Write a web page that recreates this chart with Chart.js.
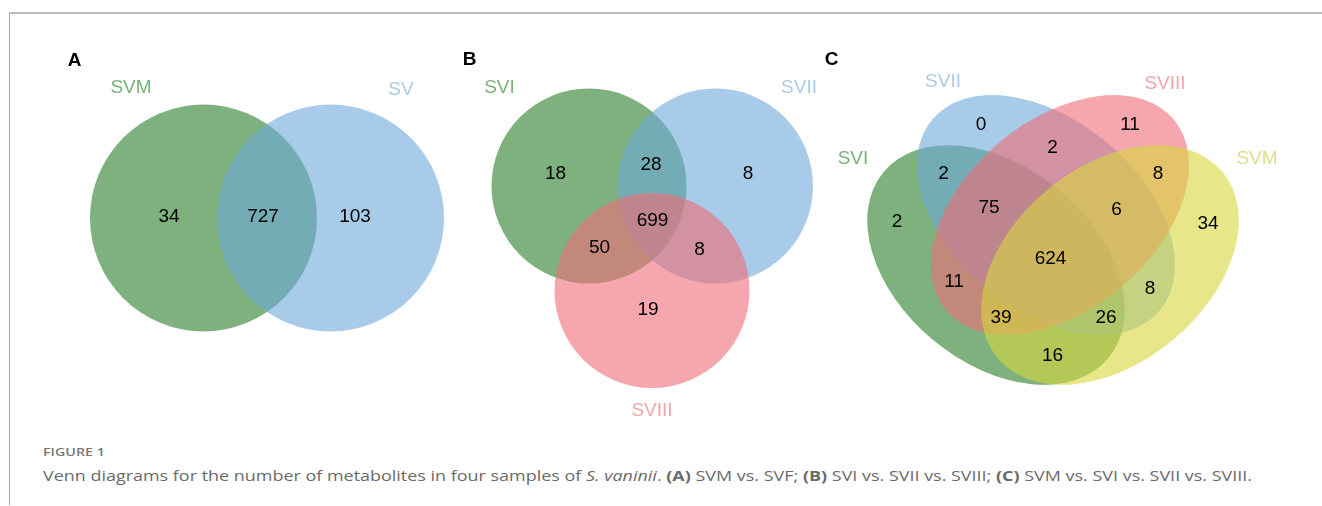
<!DOCTYPE html>
<html>
<head>
<meta charset="utf-8">
<script src="https://cdn.jsdelivr.net/npm/chart.js@4"></script>
<style>
  body { margin: 0; background: #fff; }
  #fig { position: relative; width: 1322px; height: 506px; overflow: hidden; }
  #frame { position: absolute; left: 9px; top: 12px; right: 0; height: 491px;
           border-top: 2px solid #bdbdbd; border-left: 1px solid #a8a8a8; }
  #plot { position: absolute; left: 0; top: 0; }
  .cap { position: absolute; left: 43px; font-family: "Open Sans", sans-serif;
         white-space: nowrap; transform-origin: 0 50%; }
  #figno { top: 444px; font-size: 11.5px; font-weight: 600; color: #777; }
  #legend { top: 466px; font-size: 14.5px; color: #6a6a6a; }
</style>
</head>
<body>
<div id="fig">
  <div id="frame"></div>
  <canvas id="plot" width="1322" height="430"></canvas>
  <div class="cap" id="figno">FIGURE 1</div>
  <div class="cap" id="legend">Venn diagrams for the number of metabolites in four samples of <i>S. vaninii</i>. <b>(A)</b> SVM vs. SVF; <b>(B)</b> SVI vs. SVII vs. SVIII; <b>(C)</b> SVM vs. SVI vs. SVII vs. SVIII.</div>
</div>
<script>
// data
var panels  = ["A", "B", "C"]
var setsA   = ["SVM", "SV"]
var countsA = [34, 727, 103]
var setsB   = ["SVI", "SVII", "SVIII"]
var countsB = [18, 28, 8, 699, 50, 8, 19]
var setsC   = ["SVI", "SVII", "SVIII", "SVM"]
var countsC = [0, 11, 2, 2, 8, 75, 6, 2, 34, 624, 11, 8, 39, 26, 16]

// layout, in figure pixels
var FILLS  = ["rgba(40,125,40,0.6)", "rgba(110,168,218,0.6)", "rgba(240,108,118,0.6)", "rgba(215,215,60,0.6)"]
var INKS   = ["#79b279", "#a9cbe8", "#f2a5ab", "#dede8a"]
var FONT   = '"Liberation Sans", Arial, sans-serif'

// [cx, cy, rx, ry, rotation]
var shapesA = [[203.5, 218, 113.5, 113.5, 0], [330.5, 218, 113.5, 113.5, 0]]
var shapesB = [[589, 186, 97.5, 97.5, 0], [715.5, 186, 97.5, 97.5, 0], [652, 290.5, 97.5, 97.5, 0]]
var shapesC = [ [996, 265, 146, 98, 39.5]
              , [1046, 215, 148.5, 94.7, 40]
              , [1060, 215, 148.5, 94.7, -40]
              , [1110, 265, 146, 98, -39.5]
              ]

var panelPos = [[74.5, 60.5], [469.5, 60], [831.5, 60]]
var setPosA  = [[131, 87.5], [401, 89.5]]
var setPosB  = [[499.5, 87.5], [799, 87.5], [652, 410.5]]
var setPosC  = [[853, 159], [943, 82], [1165, 84], [1257, 159]]
var cntPosA  = [[169, 217], [263, 217], [355, 217]]
var cntPosB  = [[555.5, 174], [651, 164.5], [748, 174], [652.5, 220.5], [599.5, 248], [699.5, 250], [648, 309.5]]
var cntPosC  = [ [981, 124.5], [1130, 124.5], [1052.5, 147.5], [943.5, 174], [1158, 174]
               , [989, 208], [1116.5, 210], [897, 222], [1208, 224], [1050.5, 258.5]
               , [954, 282], [1150, 289], [1001, 318], [1106, 318], [1052.5, 355.5] ]

function points(pos) {
  return pos.map(function(p) { return {x: p[0], y: p[1]} })
}

function textSet(pos, texts, colors, weight) {
  return { type: "scatter"
         , data: points(pos)
         , texts: texts.map(String)
         , colors: colors
         , weight: weight || "normal"
         , pointRadius: 0
         , pointHoverRadius: 0
         }
}

var shapes = []
;[shapesA, shapesB, shapesC].forEach(function(list) {
  list.forEach(function(s, i) {
    shapes.push({cx: s[0], cy: s[1], rx: s[2], ry: s[3], rot: s[4], color: FILLS[i]})
  })
})

var black = function(n) { return Array(n).fill("#000") }

var datasets =
  [ textSet(panelPos, panels, black(3), "bold")
  , textSet(setPosA, setsA, INKS.slice(0, 2))
  , textSet(setPosB, setsB, INKS.slice(0, 3))
  , textSet(setPosC, setsC, INKS)
  , textSet(cntPosA, countsA, black(countsA.length))
  , textSet(cntPosB, countsB, black(countsB.length))
  , textSet(cntPosC, countsC, black(countsC.length))
  ]

var vennPlugin = {
  id: "venn",
  beforeDatasetsDraw: function(chart) {
    var ctx = chart.ctx, xs = chart.scales.x, ys = chart.scales.y
    shapes.forEach(function(s) {
      var px = xs.getPixelForValue(s.cx), py = ys.getPixelForValue(s.cy)
        , rx = Math.abs(xs.getPixelForValue(s.cx + s.rx) - px)
        , ry = Math.abs(ys.getPixelForValue(s.cy + s.ry) - py)
      ctx.save()
      ctx.beginPath()
      ctx.ellipse(px, py, rx, ry, s.rot * Math.PI / 180, 0, 2 * Math.PI)
      ctx.fillStyle = s.color
      ctx.fill()
      ctx.restore()
    })
  },
  afterDatasetsDraw: function(chart) {
    var ctx = chart.ctx
    chart.data.datasets.forEach(function(ds, i) {
      var meta = chart.getDatasetMeta(i)
      ctx.save()
      ctx.font = ds.weight + " 19px " + FONT
      ctx.textAlign = "center"
      ctx.textBaseline = "middle"
      meta.data.forEach(function(pt, j) {
        ctx.fillStyle = ds.colors[j]
        ctx.fillText(ds.texts[j], pt.x, pt.y)
      })
      ctx.restore()
    })
  }
}

new Chart(document.getElementById("plot"), {
  type: "scatter",
  data: {datasets: datasets},
  options: {
    responsive: false,
    animation: false,
    layout: {padding: 0},
    plugins: {legend: {display: false}, tooltip: {enabled: false}},
    scales: {
      x: {type: "linear", min: 0, max: 1322, display: false},
      y: {type: "linear", min: 0, max: 430, reverse: true, display: false}
    }
  },
  plugins: [vennPlugin]
})

// stretch the caption to the width it has in the figure
var legend = document.getElementById("legend")
legend.style.transform = "scaleX(" + (1209 / legend.getBoundingClientRect().width) + ")"
var figno = document.getElementById("figno")
figno.style.transform = "scaleX(" + (62 / figno.getBoundingClientRect().width) + ")"
</script>
</body>
</html>
